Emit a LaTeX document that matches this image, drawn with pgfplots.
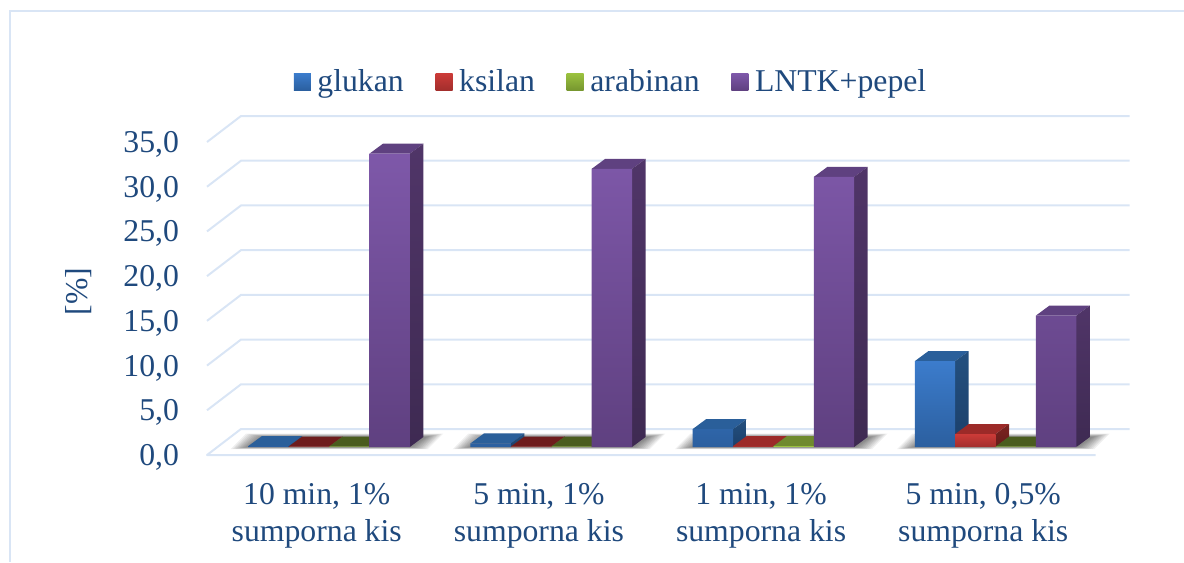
\documentclass[border=0pt]{standalone}
\usepackage{fontspec}
\setmainfont{Liberation Serif}
\usepackage{pgfplots}
\pgfplotsset{compat=1.18}
\definecolor{txt}{HTML}{1F497D}
\definecolor{gridc}{HTML}{D9E5F5}
\definecolor{bluehi}{HTML}{3C7CCC}
\definecolor{bluelo}{HTML}{2B5F9F}
\definecolor{bluetop}{HTML}{2A5F9A}
\definecolor{bluesa}{HTML}{24507F}
\definecolor{bluesb}{HTML}{1B3F6A}
\definecolor{redhi}{HTML}{CC3B38}
\definecolor{redlo}{HTML}{A22E2C}
\definecolor{redtop}{HTML}{9C2A28}
\definecolor{reddark}{HTML}{6E1C1C}
\definecolor{redsa}{HTML}{7B2320}
\definecolor{redsb}{HTML}{661C1A}
\definecolor{greenhi}{HTML}{9BC23F}
\definecolor{greenlo}{HTML}{76962F}
\definecolor{greentop}{HTML}{6F8A2E}
\definecolor{greendark}{HTML}{4A5C1E}
\definecolor{purphi}{HTML}{7E58A9}
\definecolor{purplo}{HTML}{5F4080}
\definecolor{purptop}{HTML}{5F4180}
\definecolor{purpsa}{HTML}{503568}
\definecolor{purpsb}{HTML}{3E2A52}
\newcommand\fz{\fontsize{23.8}{27.75}\selectfont}
% top and side faces of one bar: group, left offset, value, top colour, side colours
\newcommand\barfaces[6]{%
  \pgfmathsetmacro\xl{#1+#2}%
  \pgfmathsetmacro\xr{#1+#2+0.1818}%
  \pgfmathsetmacro\xld{#1+#2+0.0608}%
  \pgfmathsetmacro\xrd{#1+#2+0.1818+0.0608}%
  \pgfmathsetmacro\vd{#3+1.118}%
  \edef\tmp{%
    \noexpand\addplot[forget plot,draw=none,fill=#4] coordinates {(\xl,#3)(\xr,#3)(\xrd,\vd)(\xld,\vd)} -- cycle;
    \noexpand\addplot[forget plot,draw=none,top color=#5,bottom color=#6] coordinates {(\xr,0)(\xrd,1.118)(\xrd,\vd)(\xr,#3)} -- cycle;
  }\tmp}
% soft floor shadow of one group, built of nested layers
\newcommand\floorshadow[1]{%
  \foreach \e in {0.08,0.072,0.064,0.056,0.048,0.04,0.032,0.024,0.016,0.008}{%
    \pgfmathsetmacro\sl{#1-0.3636-\e}%
    \pgfmathsetmacro\sr{#1+0.3636+\e}%
    \pgfmathsetmacro\slt{\sl+0.07}%
    \pgfmathsetmacro\srt{\sr+0.07}%
    \pgfmathsetmacro\yb{-\e*3}%
    \pgfmathsetmacro\yt{1.1+\e*5}%
    \edef\tmp{\noexpand\addplot[forget plot,draw=none,fill=black,fill opacity=0.06] coordinates {(\sl,\yb)(\sr,\yb)(\srt,\yt)(\slt,\yt)} -- cycle;}\tmp
  }}
\begin{document}
\begin{tikzpicture}[x=0.75pt,y=0.75pt]
\path[use as bounding box] (-207,-107) rectangle (977,455);
\draw[gridc,line width=1.5pt] (-197,-107) -- (-197,444.5) -- (977,444.5);
\begin{axis}[
  at={(0,0)},anchor=south west,
  scale only axis,width=666.5pt,height=234.75pt,
  xmin=-0.5,xmax=3.5,ymin=0,ymax=35,
  clip=false,
  axis line style={draw=none},
  major tick length=0pt,
  xtick={0,1,2,3},
  xticklabels={{10 min, 1\%\\sumporna kis},{5 min, 1\%\\sumporna kis},{1 min, 1\%\\sumporna kis},{5 min, 0,5\%\\sumporna kis}},
  ytick={0,5,10,15,20,25,30,35},
  yticklabels={{0,0},{5,0},{10,0},{15,0},{20,0},{25,0},{30,0},{35,0}},
  xticklabel style={font=\fz,text=txt,align=center,yshift=-17.5pt,xshift=-1pt},
  yticklabel style={font=\fz,text=txt,anchor=east,xshift=-17.5pt,yshift=-1.8pt},
  ylabel={[\%]},
  every axis y label/.style={at={(rel axis cs:-0.144,0.522)},rotate=90,anchor=center,font=\fz,text=txt},
]
\addplot[gridc,line width=1.5pt,line join=round] coordinates {(3.5,0)(-0.5,0)(-0.347,2.907)(3.653,2.907)};
\addplot[gridc,line width=1.5pt] coordinates {(-0.5,5)(-0.347,7.907)(3.653,7.907)};
\addplot[gridc,line width=1.5pt] coordinates {(-0.5,10)(-0.347,12.907)(3.653,12.907)};
\addplot[gridc,line width=1.5pt] coordinates {(-0.5,15)(-0.347,17.907)(3.653,17.907)};
\addplot[gridc,line width=1.5pt] coordinates {(-0.5,20)(-0.347,22.907)(3.653,22.907)};
\addplot[gridc,line width=1.5pt] coordinates {(-0.5,25)(-0.347,27.907)(3.653,27.907)};
\addplot[gridc,line width=1.5pt] coordinates {(-0.5,30)(-0.347,32.907)(3.653,32.907)};
\addplot[gridc,line width=1.5pt] coordinates {(-0.5,35)(-0.347,37.907)(3.653,37.907)};
\end{axis}
\begin{axis}[
  at={(0,0)},anchor=south west,
  scale only axis,width=666.5pt,height=234.75pt,
  xmin=-0.5495,xmax=3.4505,ymin=-0.895,ymax=34.105,
  clip=false,
  axis line style={draw=none},
  major tick length=0pt,
  xtick=\empty,ytick=\empty,
  legend columns=4,
  legend style={at={(0.4535,1.192)},anchor=center,draw=none,fill=none,
    font=\fz,text=txt,cells={anchor=west},nodes={inner sep=0pt},
    /tikz/every odd column/.append style={column sep=5pt},
    /tikz/every even column/.append style={column sep=23.8pt}},
]
\floorshadow{0}\floorshadow{1}\floorshadow{2}\floorshadow{3}
% glukan
\barfaces{0}{-0.3636}{0.1}{bluetop}{bluesa}{bluesb}
\barfaces{1}{-0.3636}{0.4}{bluetop}{bluesa}{bluesb}
\barfaces{2}{-0.3636}{2.0}{bluetop}{bluesa}{bluesb}
\barfaces{3}{-0.3636}{9.6}{bluetop}{bluesa}{bluesb}
\addplot[ybar,bar width=30.3pt,bar shift=-45.45pt,draw=none,top color=bluehi,bottom color=bluelo,
  legend image code/.code={\path[top color=bluehi,bottom color=bluelo] (0pt,-6.4pt) rectangle (12.75pt,6.4pt);}]
  coordinates {(0,0.1)(1,0.4)(2,2.0)(3,9.6)};
\addlegendentry{glukan}
% ksilan
\barfaces{0}{-0.1818}{0.05}{reddark}{redsa}{redsb}
\barfaces{1}{-0.1818}{0.05}{reddark}{redsa}{redsb}
\barfaces{2}{-0.1818}{0.1}{redtop}{redsa}{redsb}
\barfaces{3}{-0.1818}{1.45}{redtop}{redsa}{redsb}
\addplot[ybar,bar width=30.3pt,bar shift=-15.15pt,draw=none,top color=redhi,bottom color=redlo,
  legend image code/.code={\path[top color=redhi,bottom color=redlo] (0pt,-6.4pt) rectangle (12.75pt,6.4pt);}]
  coordinates {(0,0.05)(1,0.05)(2,0.1)(3,1.45)};
\addlegendentry{ksilan}
% arabinan
\barfaces{0}{0}{0.05}{greendark}{greendark}{greendark}
\barfaces{1}{0}{0.05}{greendark}{greendark}{greendark}
\barfaces{2}{0}{0.1}{greentop}{greendark}{greendark}
\barfaces{3}{0}{0.05}{greendark}{greendark}{greendark}
\addplot[ybar,bar width=30.3pt,bar shift=15.15pt,draw=none,top color=greenhi,bottom color=greenlo,
  legend image code/.code={\path[top color=greenhi,bottom color=greenlo] (0pt,-6.4pt) rectangle (12.75pt,6.4pt);}]
  coordinates {(0,0.05)(1,0.05)(2,0.1)(3,0.05)};
\addlegendentry{arabinan}
% LNTK+pepel
\barfaces{0}{0.1818}{32.8}{purptop}{purpsa}{purpsb}
\barfaces{1}{0.1818}{31.1}{purptop}{purpsa}{purpsb}
\barfaces{2}{0.1818}{30.2}{purptop}{purpsa}{purpsb}
\barfaces{3}{0.1818}{14.7}{purptop}{purpsa}{purpsb}
\addplot[ybar,bar width=30.3pt,bar shift=45.45pt,draw=none,top color=purphi,bottom color=purplo,
  legend image code/.code={\path[top color=purphi,bottom color=purplo] (0pt,-6.4pt) rectangle (12.75pt,6.4pt);}]
  coordinates {(0,32.8)(1,31.1)(2,30.2)(3,14.7)};
\addlegendentry{LNTK+pepel}
\end{axis}
\end{tikzpicture}
\end{document}
